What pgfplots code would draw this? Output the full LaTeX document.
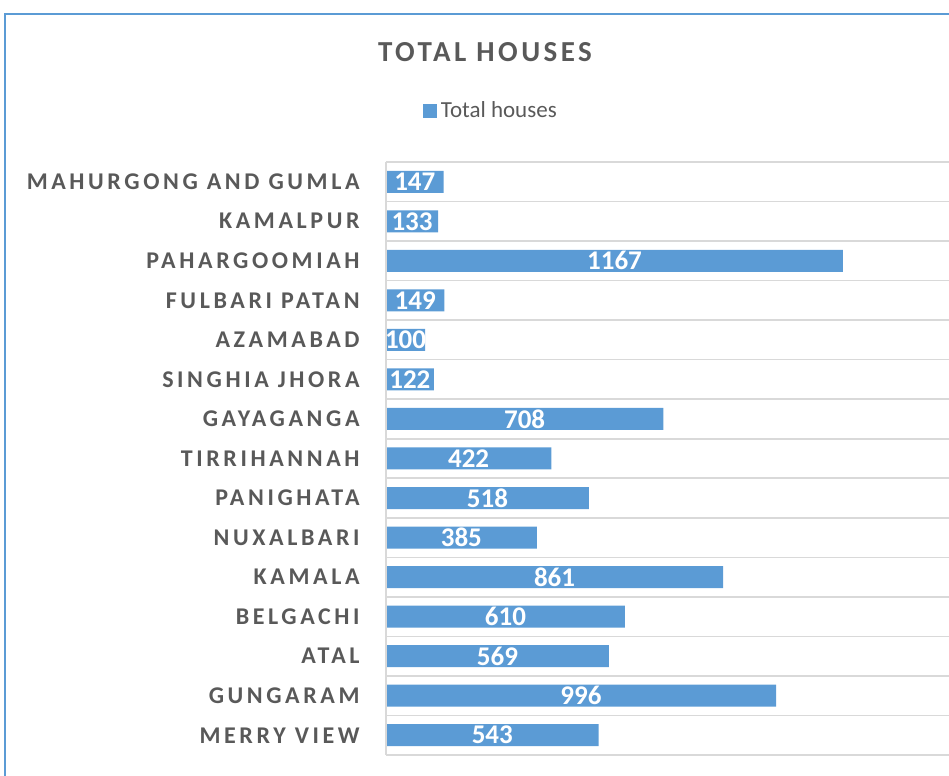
\documentclass[border=0pt]{standalone}
\usepackage{pgfplots}
\pgfplotsset{compat=1.18}
\usepackage{fontspec}
\setmainfont{Carlito}
\newfontfamily\spaced[LetterSpace=15]{Carlito}
\newfontfamily\titlefont[LetterSpace=12]{Carlito}
\definecolor{barblue}{HTML}{5B9BD5}
\definecolor{txtgray}{HTML}{595959}
\definecolor{gridgray}{HTML}{D9D9D9}
\begin{document}
\begin{tikzpicture}
\path[use as bounding box] (0pt,0pt) rectangle (474.5pt,388pt);
\draw[barblue, line width=1pt] (2.5pt,-50pt) -- (2.5pt,381pt) -- (520pt,381pt);
\begin{axis}[
  at={(193pt,10.5pt)}, anchor=south west,
  scale only axis, width=281.5pt, height=296.5pt,
  xmin=0, xmax=1437.7, ymin=-0.5, ymax=14.5,
  xbar, bar width=11pt,
  axis line style={draw=none},
  xtick=\empty,
  ytick={0,...,14},
  yticklabels={MERRY VIEW\hspace{4pt}, GUNGARAM\hspace{4pt}, ATAL\hspace{4pt}, BELGACHI, KAMALA\hspace{4pt}, NUXALBARI, PANIGHATA, TIRRIHANNAH, GAYAGANGA, SINGHIA JHORA, AZAMABAD\hspace{4pt}, FULBARI PATAN\hspace{4pt}, PAHARGOOMIAH\hspace{4pt}, KAMALPUR\hspace{4pt}, MAHURGONG AND GUMLA},
  yticklabel style={font=\spaced\bfseries\fontsize{12}{14}\selectfont, text=txtgray, inner sep=0pt, anchor=east, xshift=-13pt},
  minor ytick={-0.5,0.5,...,14.5},
  yminorgrids=true,
  minor grid style={gridgray, line width=0.8pt},
  major tick length=0pt, minor tick length=0pt,
  clip=false,
  point meta=x,
  nodes near coords={\pgfmathprintnumber[assume math mode=true, 1000 sep={}]{\pgfplotspointmeta}},
  every node near coord/.append style={font=\bfseries\fontsize{13.5}{15}\selectfont, text=white, anchor=center},
  every node near coord/.append code={\pgfmathfloattofixed{\pgfplotspointmeta}\edef\myshift{\pgfmathresult}\pgfkeysalso{xshift=-0.0979pt*\myshift}},
  legend style={at={(axis description cs:0.188,1.086)}, anchor=center, draw=none, fill=none, font=\fontsize{11.5}{13}\selectfont, text=txtgray},
  legend image code/.code={\fill[barblue] (0pt,-3.5pt) rectangle (7pt,3.5pt);},
]
\addplot[fill=barblue, draw=none] coordinates {
  (543,0) (996,1) (569,2) (610,3) (861,4) (385,5) (518,6) (422,7)
  (708,8) (122,9) (100,10) (149,11) (1167,12) (133,13) (147,14)
};
\addlegendentry{Total houses}
\draw[gridgray, line width=0.8pt] (axis cs:0,-0.5) -- (axis cs:0,14.5);
\end{axis}
\node[font=\titlefont\bfseries\fontsize{14.5}{16}\selectfont, text=txtgray] at (242.5pt,362pt) {TOTAL HOUSES};
\end{tikzpicture}
\end{document}
